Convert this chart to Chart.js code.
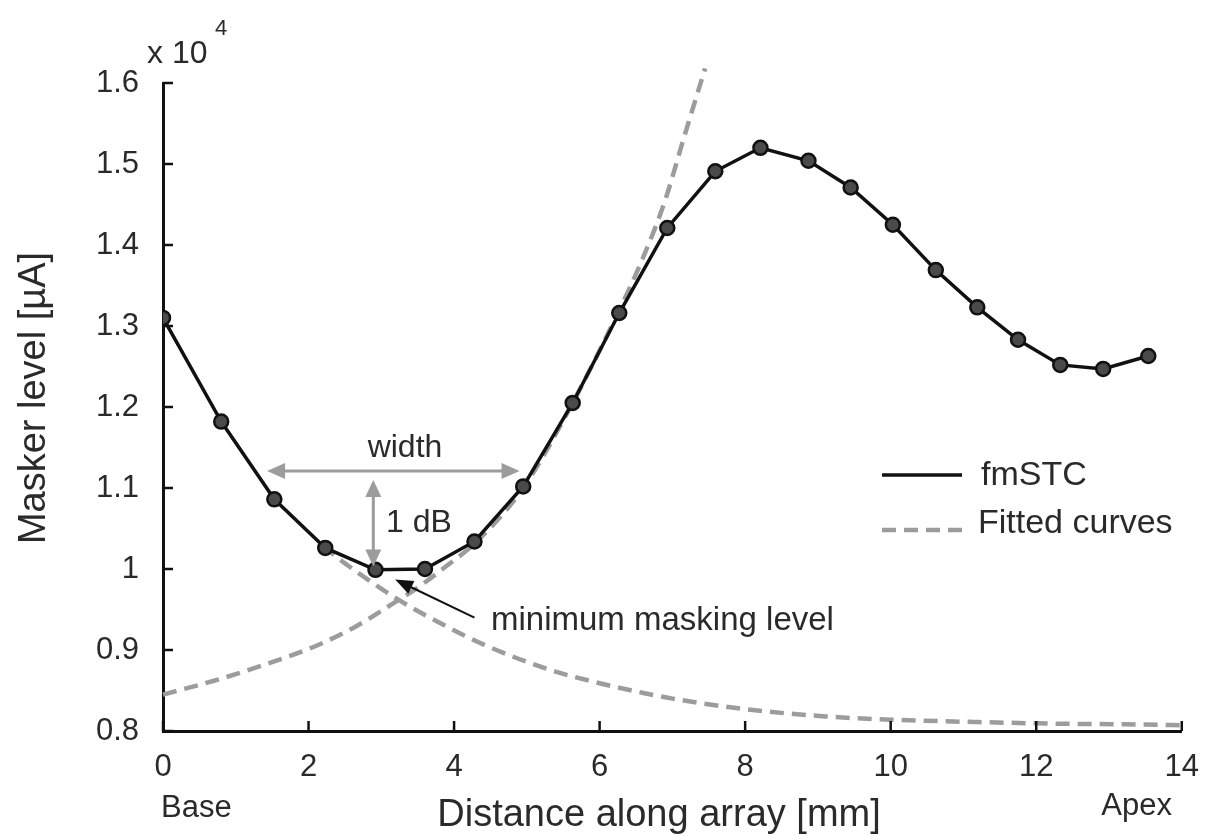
<!DOCTYPE html>
<html>
<head>
<meta charset="utf-8">
<script src="https://cdn.jsdelivr.net/npm/chart.js@4.4.1/dist/chart.umd.min.js"></script>
<style>
  html, body { margin: 0; padding: 0; background: #fff; }
  #wrap { width: 1217px; height: 836px; }
</style>
</head>
<body>
<div id="wrap"><canvas id="chart" width="1217" height="836"></canvas></div>
<script>
// fmSTC measurements (masker level in units of 10^4 uA)
const distance = [0, 0.80, 1.53, 2.23, 2.92, 3.60, 4.28, 4.95, 5.63, 6.27, 6.93, 7.59, 8.21, 8.87, 9.45, 10.03, 10.62, 11.19, 11.75, 12.33, 12.92, 13.54];
const maskerLevel = [1.310, 1.182, 1.086, 1.026, 0.999, 1.000, 1.034, 1.102, 1.205, 1.316, 1.421, 1.491, 1.520, 1.504, 1.471, 1.425, 1.369, 1.323, 1.283, 1.252, 1.247, 1.263];

// fitted curve on the apical side (falls towards apex)
const fitFallX = [2.2, 2.5, 3.2, 3.9, 4.4, 5.3, 6.0, 6.6, 7.0, 8.0, 9.1, 10.0, 11.2, 12.3, 13.5, 14.0];
const fitFallY = [1.028, 1.007, 0.964, 0.929, 0.907, 0.876, 0.859, 0.847, 0.840, 0.827, 0.818, 0.814, 0.811, 0.809, 0.808, 0.807];

// fitted curve on the basal side (rises towards apex)
const fitRiseX = [0, 0.7, 1.4, 2.1, 2.65, 3.1, 3.5, 3.9, 4.3, 4.95, 5.6, 6.25, 6.6, 6.9, 7.15, 7.45];
const fitRiseY = [0.845, 0.862, 0.882, 0.905, 0.929, 0.954, 0.977, 1.004, 1.033, 1.100, 1.200, 1.316, 1.385, 1.455, 1.530, 1.618];

const xTicks = [0, 2, 4, 6, 8, 10, 12, 14];
const yTicks = [0.8, 0.9, 1, 1.1, 1.2, 1.3, 1.4, 1.5, 1.6];

// annotation anchors (data units)
const widthArrow = { x0: 1.43, x1: 4.90, y: 1.121 };
const dbArrow = { x: 2.89, y0: 1.110, y1: 1.003 };
const minArrow = { x0: 4.28, y0: 0.940, x1: 3.19, y1: 0.987 };

const GREY = "#9c9c9c";
const INK = "#2a2a2a";
const FONT = "'Liberation Sans', Arial, Helvetica, sans-serif";

Chart.defaults.font.family = FONT;
Chart.defaults.color = INK;

function toPts(xs, ys) {
  return xs.map((x, i) => ({ x, y: ys[i] }));
}

function arrowHead(ctx, fx, fy, tx, ty, len, half, color) {
  const a = Math.atan2(ty - fy, tx - fx);
  ctx.save();
  ctx.fillStyle = color;
  ctx.beginPath();
  ctx.moveTo(tx, ty);
  ctx.lineTo(tx - len * Math.cos(a) + half * Math.sin(a), ty - len * Math.sin(a) - half * Math.cos(a));
  ctx.lineTo(tx - len * Math.cos(a) - half * Math.sin(a), ty - len * Math.sin(a) + half * Math.cos(a));
  ctx.closePath();
  ctx.fill();
  ctx.restore();
}

function text(ctx, str, x, y, size, align) {
  ctx.font = size + "px " + FONT;
  ctx.textAlign = align || "left";
  ctx.textBaseline = "alphabetic";
  ctx.fillText(str, x, y);
}

const decorations = {
  id: "decorations",
  afterDraw(chart) {
    const { ctx, chartArea: area, scales: { x, y } } = chart;
    ctx.save();

    // inward tick marks
    ctx.strokeStyle = "#111";
    ctx.lineWidth = 2.5;
    xTicks.forEach(v => {
      const px = x.getPixelForValue(v);
      ctx.beginPath();
      ctx.moveTo(px, area.bottom);
      ctx.lineTo(px, area.bottom - 10);
      ctx.stroke();
    });
    yTicks.forEach(v => {
      const py = y.getPixelForValue(v);
      ctx.beginPath();
      ctx.moveTo(area.left, py);
      ctx.lineTo(area.left + 10, py);
      ctx.stroke();
    });

    ctx.fillStyle = INK;
    // exponent
    text(ctx, "x 10", 147, 63, 32);
    text(ctx, "4", 215, 35, 22);

    // axis titles
    text(ctx, "Distance along array [mm]", 659, 826, 38, "center");
    text(ctx, "Base", 161, 817, 31);
    text(ctx, "Apex", 1172, 815, 31, "right");
    ctx.save();
    ctx.translate(45, 398);
    ctx.rotate(-Math.PI / 2);
    text(ctx, "Masker level [\u00b5A]", 0, 0, 38, "center");
    ctx.restore();

    // width arrow
    const wx0 = x.getPixelForValue(widthArrow.x0);
    const wx1 = x.getPixelForValue(widthArrow.x1);
    const wy = y.getPixelForValue(widthArrow.y);
    ctx.strokeStyle = GREY;
    ctx.lineWidth = 3;
    ctx.beginPath();
    ctx.moveTo(wx0 + 10, wy);
    ctx.lineTo(wx1 - 10, wy);
    ctx.stroke();
    arrowHead(ctx, wx1, wy, wx0, wy, 18, 8, GREY);
    arrowHead(ctx, wx0, wy, wx1, wy, 18, 8, GREY);

    // 1 dB arrow
    const dx = x.getPixelForValue(dbArrow.x);
    const dy0 = y.getPixelForValue(dbArrow.y0);
    const dy1 = y.getPixelForValue(dbArrow.y1);
    ctx.beginPath();
    ctx.moveTo(dx, dy0 + 10);
    ctx.lineTo(dx, dy1 - 10);
    ctx.stroke();
    arrowHead(ctx, dx, dy1, dx, dy0, 17, 8, GREY);
    arrowHead(ctx, dx, dy0, dx, dy1, 17, 8, GREY);

    ctx.fillStyle = INK;
    text(ctx, "width", 405, 457, 32, "center");
    text(ctx, "1 dB", 386, 532, 32);

    // minimum masking level arrow
    const mx0 = x.getPixelForValue(minArrow.x0);
    const my0 = y.getPixelForValue(minArrow.y0);
    const mx1 = x.getPixelForValue(minArrow.x1);
    const my1 = y.getPixelForValue(minArrow.y1);
    ctx.strokeStyle = "#111";
    ctx.lineWidth = 2;
    ctx.beginPath();
    ctx.moveTo(mx0, my0);
    ctx.lineTo(mx1 + (mx0 - mx1) * 0.15, my1 + (my0 - my1) * 0.15);
    ctx.stroke();
    arrowHead(ctx, mx0, my0, mx1, my1, 18, 7, "#111");
    ctx.fillStyle = INK;
    text(ctx, "minimum masking level", 491, 630, 33);

    // legend
    ctx.strokeStyle = "#111";
    ctx.lineWidth = 3.5;
    ctx.setLineDash([]);
    ctx.beginPath();
    ctx.moveTo(882, 475);
    ctx.lineTo(962, 475);
    ctx.stroke();
    ctx.strokeStyle = GREY;
    ctx.lineWidth = 4.5;
    ctx.setLineDash([14, 8]);
    ctx.beginPath();
    ctx.moveTo(882, 530);
    ctx.lineTo(962, 530);
    ctx.stroke();
    ctx.setLineDash([]);
    ctx.fillStyle = INK;
    text(ctx, "fmSTC", 981, 485, 34);
    text(ctx, "Fitted curves", 978, 533, 34);

    ctx.restore();
  }
};

new Chart(document.getElementById("chart"), {
  type: "scatter",
  data: {
    datasets: [
      {
        label: "Fitted curves",
        data: toPts(fitFallX, fitFallY),
        showLine: true,
        borderColor: GREY,
        borderWidth: 4.5,
        borderDash: [14, 8],
        pointRadius: 0,
        cubicInterpolationMode: "monotone",
        order: 2,
      },
      {
        label: "Fitted curves (rise)",
        data: toPts(fitRiseX, fitRiseY),
        showLine: true,
        borderColor: GREY,
        borderWidth: 4.5,
        borderDash: [14, 8],
        pointRadius: 0,
        cubicInterpolationMode: "monotone",
        clip: false,
        order: 2,
      },
      {
        label: "fmSTC",
        data: toPts(distance, maskerLevel),
        showLine: true,
        borderColor: "#111",
        borderWidth: 3.5,
        tension: 0,
        pointRadius: 7,
        pointBackgroundColor: "#4a4a4a",
        pointBorderColor: "#111",
        pointBorderWidth: 2.5,
        order: 1,
      },
    ],
  },
  plugins: [decorations],
  options: {
    responsive: false,
    animation: false,
    events: [],
    layout: { padding: { top: 83, right: 30, left: 0, bottom: 0 } },
    plugins: { legend: { display: false }, tooltip: { enabled: false } },
    scales: {
      x: {
        type: "linear",
        min: 0,
        max: 14,
        afterFit: s => { s.height = 105; },
        afterBuildTicks: s => { s.ticks = xTicks.map(v => ({ value: v })); },
        grid: { display: false, drawTicks: false },
        border: { display: true, color: "#111", width: 3 },
        ticks: { font: { size: 31 }, color: INK, padding: 18, maxRotation: 0, callback: v => String(v) },
      },
      y: {
        type: "linear",
        min: 0.8,
        max: 1.6,
        afterFit: s => { s.width = 163; },
        afterBuildTicks: s => { s.ticks = yTicks.map(v => ({ value: v })); },
        grid: { display: false, drawTicks: false },
        border: { display: true, color: "#111", width: 3 },
        ticks: { font: { size: 31 }, color: INK, padding: 24, callback: v => String(Math.round(v * 10) / 10) },
      },
    },
  },
});
</script>
</body>
</html>
